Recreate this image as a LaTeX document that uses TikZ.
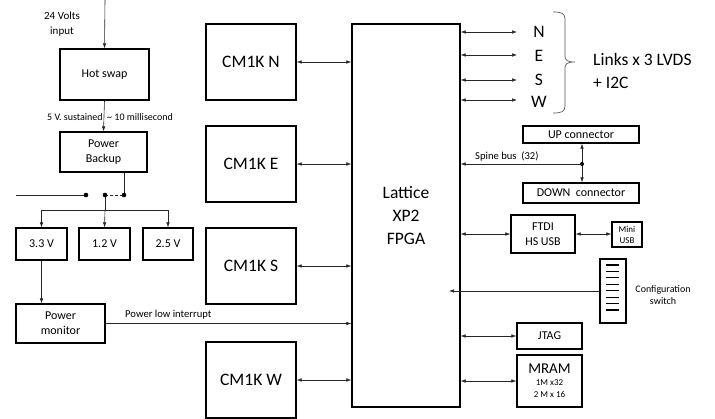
\documentclass[tikz,border=0pt]{standalone}
\usepackage{fontspec}
\setmainfont{Carlito}
\usetikzlibrary{arrows.meta}
\begin{document}
\begin{tikzpicture}[x=1pt,y=-1pt,
  box/.style={draw,line width=1.3pt,inner sep=0pt,align=center},
  conn/.style={line width=0.6pt,draw=black!85},
  tip/.style={conn,-{Latex[length=5pt,width=3.6pt]}},
  bi/.style={conn,{Latex[length=5pt,width=3.6pt]}-{Latex[length=5pt,width=3.6pt]}},
  dot/.style={circle,fill=black,inner sep=0pt,minimum size=4.6pt},
  lbl/.style={inner sep=0pt,align=center},
  fbig/.style={font=\fontsize{17.5}{23}\selectfont},
  fmid/.style={font=\fontsize{12}{15}\selectfont},
  fsml/.style={font=\fontsize{10.6}{12}\selectfont},
  ftiny/.style={font=\fontsize{10}{11}\selectfont}]
\useasboundingbox (0,0) rectangle (715,419);

% ---------- left power section ----------
\coordinate (inTop) at (105,0);
\node[lbl,font=\fontsize{11}{15}\selectfont] (vin) at (62,24) {24 Volts\\input};
\node[box,fmid,minimum width=89pt,minimum height=51pt] (hot) at (104.5,74.5) {Hot swap};
\node[box,fmid,minimum width=87pt,minimum height=40pt] (bak) at (103.5,152) {Power\\Backup};
\draw[tip] (inTop) -- (hot.north);
\draw[tip] (hot.south) -- (bak.north);
\node[lbl,ftiny] (sus) at (105,117) {\makebox[0pt][r]{5 V. sustained\ }\makebox[0pt][l]{\ \textasciitilde\ 10 millisecond}};

\coordinate (l0) at (16,195);
\coordinate (d1) at (86,195);
\coordinate (d2) at (105,195);
\coordinate (d3) at (124,195);
\coordinate (busC) at (105,210);
\coordinate (busL) at (41.5,210);
\coordinate (busR) at (168,210);
\draw[conn] (l0) -- (d1);
\draw[conn,dashed,dash pattern=on 3pt off 2pt] (d2) -- (d3);
\draw[conn] (bak.south -| d3) -- (d3);
\draw[conn] (d2) -- (busC);
\draw[conn] (busL) -- (busR);
\node[dot] at (d1) {};
\node[dot] at (d2) {};
\node[dot] at (d3) {};

\node[box,fmid,minimum width=51pt,minimum height=32pt] (v33) at (41.5,244) {3.3 V};
\node[box,fmid,minimum width=51pt,minimum height=32pt] (v12) at (104.5,244) {1.2 V};
\node[box,fmid,minimum width=50pt,minimum height=32pt] (v25) at (168,244) {2.5 V};
\draw[tip] (v33.north |- busC) -- (v33.north);
\draw[tip] (busC) -- (v12.north);
\draw[tip] (v25.north |- busC) -- (v25.north);

\node[box,fmid,minimum width=89pt,minimum height=39pt] (pmon) at (60.5,323.5) {Power\\monitor};
\draw[tip] (v33.south) -- (v33.south |- pmon.north);

% ---------- CM1K + FPGA ----------
\node[box,fbig,minimum width=90pt,minimum height=76pt] (cmN) at (251,62) {CM1K N};
\node[box,fbig,minimum width=90pt,minimum height=76pt] (cmE) at (251,164) {CM1K E};
\node[box,fbig,minimum width=90pt,minimum height=76pt] (cmS) at (251,266) {CM1K S};
\node[box,fbig,minimum width=90pt,minimum height=76pt] (cmW) at (251,380) {CM1K W};
\node[box,fbig,minimum width=108pt,minimum height=383pt] (fpga) at (406,215.5) {Lattice\\XP2\\FPGA};

\draw[bi] (cmN.east) -- (cmN.east -| fpga.west);
\draw[bi] (cmE.east) -- (cmE.east -| fpga.west);
\draw[bi] (cmS.east) -- (cmS.east -| fpga.west);
\draw[bi] (cmW.east) -- (cmW.east -| fpga.west);
\draw[tip] (pmon.east) -- (pmon.east -| fpga.west);
\node[lbl,fsml,anchor=west] (plow) at (125,315) {Power low interrupt};

% ---------- links ----------
\coordinate (pN) at (517,32);
\coordinate (pE) at (517,55);
\coordinate (pS) at (517,80);
\coordinate (pW) at (517,100);
\draw[bi] (fpga.east |- pN) -- (pN);
\draw[bi] (fpga.east |- pE) -- (pE);
\draw[bi] (fpga.east |- pS) -- (pS);
\draw[bi] (fpga.east |- pW) -- (pW);
\node[lbl,fbig] (lN) at (539,32) {N};
\node[lbl,fbig] (lE) at (539,56) {E};
\node[lbl,fbig] (lS) at (539,80) {S};
\node[lbl,fbig] (lW) at (539,102) {W};
\coordinate (brT) at (553,12);
\coordinate (brM) at (575,62);
\coordinate (brB) at (553,113);
\draw[line width=0.7pt,draw=black!65]
  (brT) .. controls (561,12) and (565,13) .. (565,19) -- (565,56)
  .. controls (565,60) and (567,62) .. (brM)
  .. controls (567,62) and (565,64) .. (565,68) -- (565,106)
  .. controls (565,112) and (561,113) .. (brB);
\node[lbl,fbig,anchor=west,align=left] (links) at (593,70.5) {Links x 3 LVDS\\+ I2C};

% ---------- spine bus ----------
\node[box,fmid,minimum width=116pt,minimum height=17pt] (up) at (581,134.5) {UP connector};
\node[box,fmid,minimum width=116pt,minimum height=20pt] (down) at (581,193) {DOWN\ \ connector};
\coordinate (sp) at (582,164);
\draw[bi] (up.south -| sp) -- (down.north -| sp);
\node[dot,minimum size=4pt] at (sp) {};
\draw[tip] (sp) -- (fpga.east |- sp);
\node[lbl,fsml,anchor=west] (spl) at (475,156) {Spine bus\ \ (32)};

% ---------- USB ----------
\node[box,fmid,minimum width=64pt,minimum height=38pt] (ftdi) at (543,234) {FTDI\\HS USB};
\node[box,font=\fontsize{9}{11}\selectfont,minimum width=30pt,minimum height=25pt] (mini) at (627,234.5) {Mini\\USB};
\draw[bi] (fpga.east |- ftdi.west) -- (ftdi.west);
\draw[bi] (ftdi.east) -- (mini.west |- ftdi.east);

% ---------- config switch ----------
\node[box,minimum width=26pt,minimum height=64pt] (sw) at (613,291) {};
\foreach \i in {0,...,7} \draw[line width=1.2pt] (606,265+\i*6.43) -- (619,265+\i*6.43);
\coordinate (cfgEnd) at (449,291);
\draw[tip] (sw.west) -- (cfgEnd);
\node[lbl,font=\fontsize{10}{12}\selectfont] (cfg) at (663,295) {Configuration\\switch};

% ---------- JTAG / MRAM ----------
\node[box,fmid,minimum width=65pt,minimum height=26pt] (jtag) at (549.5,336) {JTAG};
\node[box,minimum width=65pt,minimum height=52pt] (mram) at (549.5,381) {{\fontsize{15}{17}\selectfont MRAM}\\[0pt]{\fontsize{9}{12}\selectfont 1M x32}\\{\fontsize{9}{11}\selectfont 2 M x 16}};
\draw[bi] (fpga.east |- jtag.west) -- (jtag.west);
\draw[bi] (fpga.east |- mram.west) -- (mram.west);
\end{tikzpicture}
\end{document}
